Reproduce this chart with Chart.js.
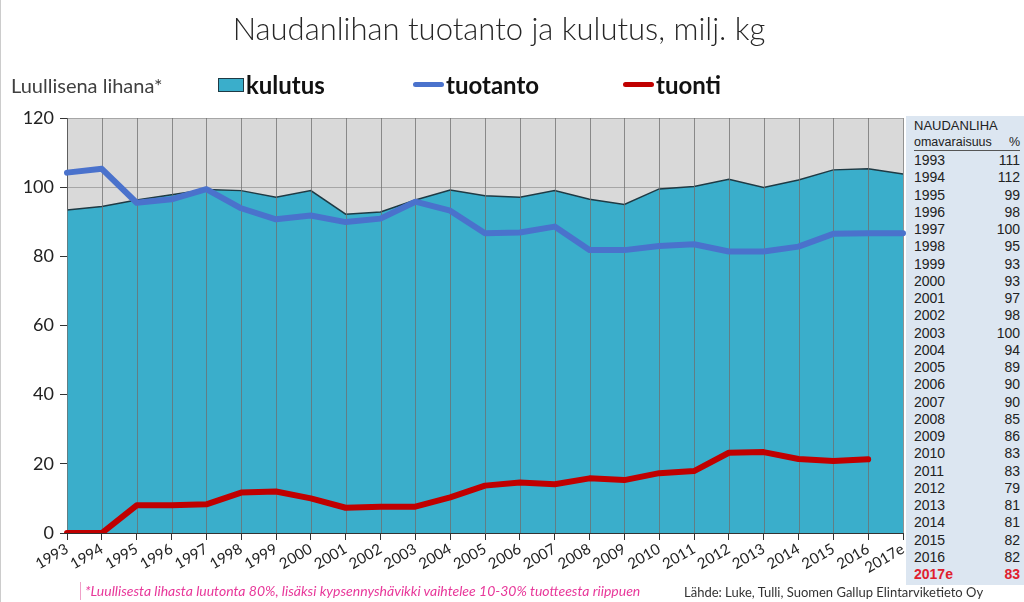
<!DOCTYPE html>
<html>
<head>
<meta charset="utf-8">
<script src="https://cdn.jsdelivr.net/npm/chart.js@4.4.1/dist/chart.umd.min.js"></script>
<style>
  body { margin: 0; background: #fff; font-family: Lato, sans-serif; }
  #wrap { position: relative; width: 1024px; height: 602px; overflow: hidden; border-left: 1px solid #ccc; box-sizing: border-box; }
  #chart { position: absolute; left: 0; top: 0; }
  .txt { position: absolute; white-space: nowrap; }
  #title { left: 0; width: 996px; top: 9px; line-height: 38px; font-size: 31px; font-weight: 300; text-align: center; color: #262626; }
  #unit { left: 10px; top: 73px; line-height: 24px; font-size: 20px; color: #404040; }
  .leg { top: 71px; line-height: 28px; font-size: 24px; font-weight: bold; color: #111; }
  .swatch { position: absolute; }
  #table { position: absolute; left: 905px; top: 116px; width: 119px; height: 469px; background: #dce6f1; font-family: "Liberation Sans", Arial, sans-serif; color: #222; }
  #table .row { position: absolute; left: 8px; right: 5px; height: 18px; line-height: 18px; font-size: 14px; }
  #table .row span { position: absolute; right: 0; }
  #table .hl { color: #e0202e; font-weight: bold; }
  #note { left: 84px; top: 582px; line-height: 18px; font-size: 14px; font-style: italic; color: #e8389a; border-left: 1px solid #f0a0c8; padding-left: 4px; margin-left: -5px; }
  #source { left: 683px; top: 583px; line-height: 18px; font-size: 13px; color: #333; }
</style>
</head>
<body>
<div id="wrap">
  <canvas id="chart" width="1024" height="602"></canvas>
  <div class="txt" id="title">Naudanlihan tuotanto ja kulutus, milj. kg</div>
  <div class="txt" id="unit">Luullisena lihana*</div>
  <div class="swatch" style="left:217px;top:78px;width:24px;height:12px;background:#3aaecb;border:1px solid #1f3a44;"></div>
  <div class="txt leg" style="left:245px;">kulutus</div>
  <div class="swatch" style="left:412px;top:82px;width:31px;height:5px;border-radius:3px;background:#4a72cc;"></div>
  <div class="txt leg" style="left:445px;">tuotanto</div>
  <div class="swatch" style="left:622px;top:82px;width:31px;height:5px;border-radius:3px;background:#c00000;"></div>
  <div class="txt leg" style="left:655px;">tuonti</div>
  <div id="table"></div>
  <div class="txt" id="note">*Luullisesta lihasta luutonta 80%, lisäksi kypsennyshävikki vaihtelee 10-30% tuotteesta riippuen</div>
  <div class="txt" id="source">Lähde: Luke, Tulli, Suomen Gallup Elintarviketieto Oy</div>
</div>
<script>
var years = ['1993','1994','1995','1996','1997','1998','1999','2000','2001','2002','2003','2004',
  '2005','2006','2007','2008','2009','2010','2011','2012','2013','2014','2015','2016','2017e'];
var kulutus = [93.4,94.4,96.3,97.8,99.3,99.0,97.1,99.0,92.2,92.8,96.3,99.2,
  97.5,97.1,99.0,96.5,95.0,99.5,100.2,102.3,99.9,102.1,105.0,105.3,103.8];
var tuotanto = [104.2,105.3,95.5,96.5,99.4,93.9,90.7,91.8,89.9,90.9,95.8,93.2,
  86.7,86.9,88.6,81.8,81.8,83.0,83.5,81.4,81.4,82.8,86.5,86.7,86.7];
var tuonti = [0,0,8.0,8.0,8.3,11.7,12.0,10.0,7.3,7.6,7.6,10.3,
  13.7,14.6,14.1,15.8,15.3,17.3,17.9,23.2,23.4,21.4,20.8,21.3,null];
var yTicks = [0,20,40,60,80,100,120];
// omavaraisuus % table on the right
var omaYears = years;
var omaValues = [111,112,99,98,100,95,93,93,97,98,100,94,89,90,90,85,86,83,83,79,81,81,82,82,83];

// build the side table
(function(){
  var t = document.getElementById('table');
  var html = '';
  html += '<div class="row" style="top:1px;font-size:13px;">NAUDANLIHA</div>';
  html += '<div class="row" style="top:17px;font-size:12.5px;border-bottom:1px solid #555;height:17px;">omavaraisuus<span>%</span></div>';
  for (var i = 0; i < omaYears.length; i++) {
    var top = 160 - 116 - 9 + i * 17.25;
    var cls = (i === omaYears.length - 1) ? 'row hl' : 'row';
    html += '<div class="' + cls + '" style="top:' + top + 'px;">' + omaYears[i] + '<span>' + omaValues[i] + '</span></div>';
  }
  t.innerHTML = html;
})();

// grey plot background
var plotBg = {
  id: 'plotBg',
  beforeDraw: function(chart){
    var a = chart.chartArea, ctx = chart.ctx;
    ctx.save();
    ctx.fillStyle = '#d9d9d9';
    ctx.fillRect(a.left, a.top, a.right - a.left, a.bottom - a.top);
    ctx.restore();
  }
};

// vertical lines go over the area but under the lines
var vLines = {
  id: 'vLines',
  afterDatasetDraw: function(chart, args){
    if (!chart.data.datasets[args.index].fill) return;
    var a = chart.chartArea, ctx = chart.ctx, x = chart.scales.x;
    ctx.save();
    ctx.strokeStyle = 'rgba(110,110,110,0.75)';
    ctx.lineWidth = 1;
    for (var i = 0; i < years.length; i++) {
      var px = Math.round(x.getPixelForValue(i)) + 0.5;
      ctx.beginPath();
      ctx.moveTo(px, a.top);
      ctx.lineTo(px, a.bottom);
      ctx.stroke();
    }
    ctx.restore();
  }
};

new Chart(document.getElementById('chart'), {
  type: 'line',
  data: {
    labels: years,
    datasets: [
      { label: 'tuonti', data: tuonti, borderColor: '#c00000', borderWidth: 6, pointRadius: 0,
        borderCapStyle: 'round', borderJoinStyle: 'round', fill: false, order: 0 },
      { label: 'tuotanto', data: tuotanto, borderColor: '#4a72cc', borderWidth: 6, pointRadius: 0,
        borderCapStyle: 'round', borderJoinStyle: 'round', fill: false, order: 1 },
      { label: 'kulutus', data: kulutus, borderColor: '#1f3a44', borderWidth: 1.5, pointRadius: 0,
        backgroundColor: '#3aaecb', fill: 'origin', order: 3 }
    ]
  },
  options: {
    responsive: false,
    devicePixelRatio: 1,
    animation: false,
    layout: { padding: { top: 118, right: 122, left: 0, bottom: 0 } },
    plugins: { legend: { display: false }, tooltip: { enabled: false } },
    scales: {
      x: {
        offset: false,
        grid: { drawOnChartArea: false, drawTicks: true, tickLength: 7, tickColor: '#333' },
        border: { color: '#333', width: 1 },
        ticks: { minRotation: 30, maxRotation: 30, autoSkip: false, padding: 0,
          color: '#222', font: { family: 'Lato', size: 15 } },
        afterFit: function(s){ s.height = 69; s.paddingLeft = 0; s.paddingRight = 0; }
      },
      y: {
        min: 0, max: 120,
        afterBuildTicks: function(s){ s.ticks = yTicks.map(function(v){ return { value: v }; }); },
        grid: { color: '#a6a6a6', tickColor: '#333', tickLength: 7 },
        border: { color: '#333', width: 1 },
        ticks: { padding: 6, color: '#222', font: { family: 'Lato', size: 18 } },
        afterFit: function(s){ s.width = 66; s.paddingTop = 0; s.paddingBottom = 0; }
      }
    }
  },
  plugins: [plotBg, vLines]
});
</script>
</body>
</html>
